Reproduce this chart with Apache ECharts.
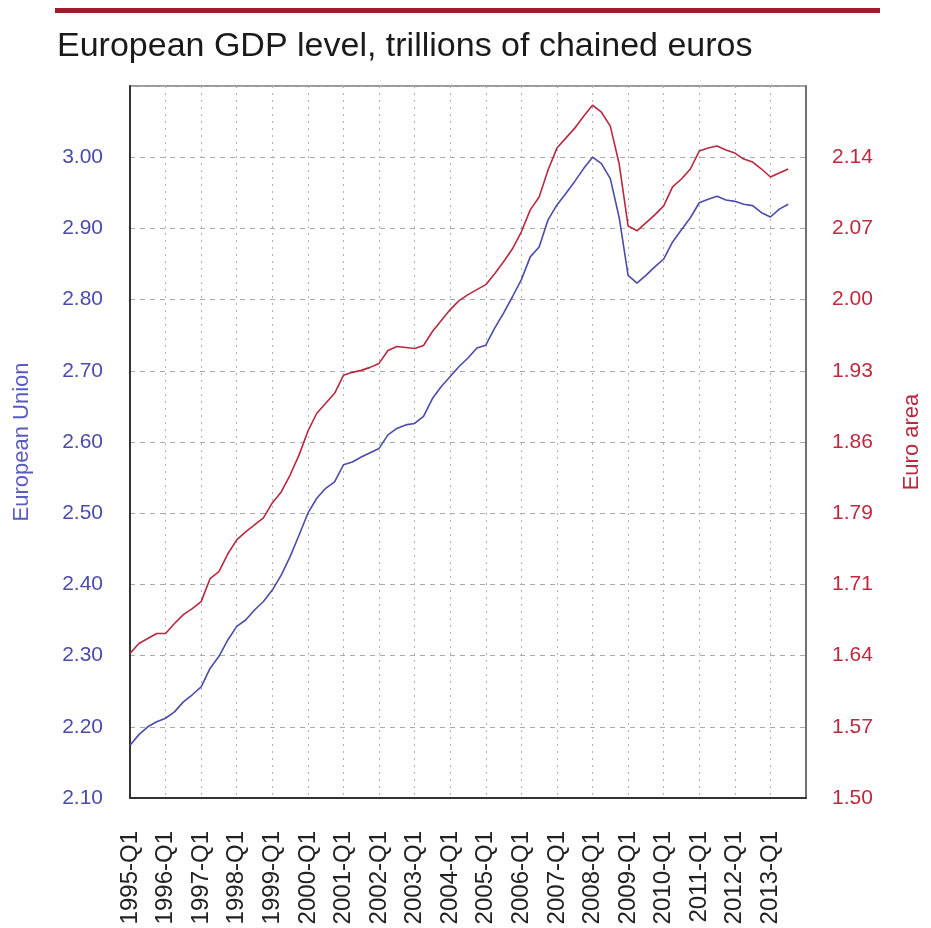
<!DOCTYPE html>
<html>
<head>
<meta charset="utf-8">
<script src="https://cdn.jsdelivr.net/npm/echarts@6/dist/echarts.min.js"></script>
<style>
  html, body { margin: 0; padding: 0; background: #fff; }
  #chart { width: 931px; height: 928px; }
</style>
</head>
<body>
<div id="chart"></div>
<script>
// quarters 1995-Q1 .. 2014-Q1 (axis runs one quarter past the data)
let years = [1995, 1996, 1997, 1998, 1999, 2000, 2001, 2002, 2003, 2004,
             2005, 2006, 2007, 2008, 2009, 2010, 2011, 2012, 2013, 2014];
let quarters = [];
for (let y of years) {
    for (let q = 1; q <= 4; q++) {
        if (y == 2014 && q > 1) break;
        quarters.push(y + '-Q' + q);
    }
}

// European Union, trillions of chained euros (left axis)
let euValues = [
    2.174, 2.189, 2.200, 2.207, 2.212, 2.221, 2.235, 2.245,
    2.256, 2.282, 2.299, 2.322, 2.341, 2.350, 2.364, 2.376,
    2.392, 2.413, 2.439, 2.469, 2.500, 2.521, 2.535, 2.544,
    2.568, 2.572, 2.579, 2.585, 2.591, 2.610, 2.619, 2.624,
    2.626, 2.636, 2.661, 2.678, 2.692, 2.706, 2.718, 2.732,
    2.736, 2.760, 2.781, 2.804, 2.828, 2.860, 2.874, 2.912,
    2.933, 2.949, 2.966, 2.984, 3.000, 2.991, 2.970, 2.915,
    2.834, 2.823, 2.834, 2.846, 2.857, 2.881, 2.898, 2.915,
    2.936, 2.941, 2.945, 2.940, 2.938, 2.934, 2.932, 2.922,
    2.916, 2.927, 2.934
];

// Euro area (right axis)
let euroValues = [
    1.645, 1.655, 1.660, 1.665, 1.665, 1.675, 1.684, 1.690,
    1.697, 1.720, 1.727, 1.745, 1.759, 1.767, 1.774, 1.781,
    1.796, 1.807, 1.824, 1.844, 1.868, 1.886, 1.896, 1.906,
    1.924, 1.927, 1.929, 1.932, 1.936, 1.949, 1.953, 1.952,
    1.951, 1.954, 1.968, 1.979, 1.990, 1.999, 2.005, 2.010,
    2.015, 2.026, 2.038, 2.051, 2.068, 2.090, 2.103, 2.130,
    2.152, 2.162, 2.172, 2.184, 2.195, 2.188, 2.174, 2.136,
    2.074, 2.069, 2.077, 2.085, 2.094, 2.113, 2.121, 2.131,
    2.149, 2.152, 2.154, 2.150, 2.147, 2.141, 2.138, 2.131,
    2.123, 2.127, 2.131
];

let blue = '#4b4bab';
let red = '#b8283e';
let ratio = 1.5 / 2.1;   // right axis is the left one scaled

function yearTick(index) {
    return index % 4 === 0 && index < 76;
}

let option = {
    animation: false,
    backgroundColor: '#fff',
    title: {
        text: 'European GDP level, trillions of chained euros',
        left: 52,
        top: 25,
        textStyle: {
            fontFamily: 'Liberation Sans',
            fontSize: 34,
            fontWeight: 'normal',
            color: '#1a1a1a'
        }
    },
    graphic: [{
        type: 'rect',
        shape: { x: 55, y: 8, width: 825, height: 5 },
        style: { fill: '#a11d2e' }
    }],
    grid: {
        left: 130,
        right: 121,
        top: 86,
        bottom: 130,
        show: true,
        borderColor: '#777',
        borderWidth: 1.5
    },
    xAxis: {
        type: 'category',
        data: quarters,
        boundaryGap: false,
        axisLine: { lineStyle: { color: '#333', width: 2 } },
        axisTick: { show: false },
        axisLabel: {
            interval: yearTick,
            rotate: 90,
            margin: 33,
            fontFamily: 'Liberation Sans',
            fontSize: 24,
            color: '#222'
        },
        splitLine: {
            show: true,
            interval: yearTick,
            lineStyle: { color: '#b0b0b0', type: [2, 5], width: 1 }
        }
    },
    yAxis: [{
        type: 'value',
        min: 2.1,
        max: 3.1,
        interval: 0.1,
        name: 'European Union',
        nameLocation: 'middle',
        nameRotate: 90,
        nameGap: 97,
        nameTextStyle: {
            fontFamily: 'Liberation Sans',
            fontSize: 22,
            color: '#5a5ac4'
        },
        axisLine: { show: true, lineStyle: { color: '#333', width: 2 } },
        axisTick: { show: false },
        axisLabel: {
            showMaxLabel: false,
            margin: 27,
            fontFamily: 'Liberation Sans',
            fontSize: 21,
            color: blue,
            formatter: function (v) { return v.toFixed(2); }
        },
        splitLine: {
            lineStyle: { color: '#aaa', type: [5, 5], width: 1 }
        }
    }, {
        type: 'value',
        min: 2.1 * ratio,
        max: 3.1 * ratio,
        interval: 0.1 * ratio,
        name: 'Euro area',
        nameLocation: 'middle',
        nameRotate: 90,
        nameGap: 95,
        nameTextStyle: {
            fontFamily: 'Liberation Sans',
            fontSize: 22,
            color: red
        },
        axisLine: { show: true, lineStyle: { color: '#666', width: 1.5 } },
        axisTick: { show: false },
        axisLabel: {
            showMaxLabel: false,
            margin: 26,
            fontFamily: 'Liberation Sans',
            fontSize: 21,
            color: '#c0283e',
            formatter: function (v) { return v.toFixed(2); }
        },
        splitLine: { show: false }
    }],
    series: [{
        name: 'European Union',
        type: 'line',
        yAxisIndex: 0,
        data: euValues,
        showSymbol: false,
        lineStyle: { color: blue, width: 1.6 },
        itemStyle: { color: blue }
    }, {
        name: 'Euro area',
        type: 'line',
        yAxisIndex: 1,
        data: euroValues,
        showSymbol: false,
        lineStyle: { color: red, width: 1.6 },
        itemStyle: { color: red }
    }]
};

let myChart = echarts.init(document.getElementById('chart'));
myChart.setOption(option);
</script>
</body>
</html>
